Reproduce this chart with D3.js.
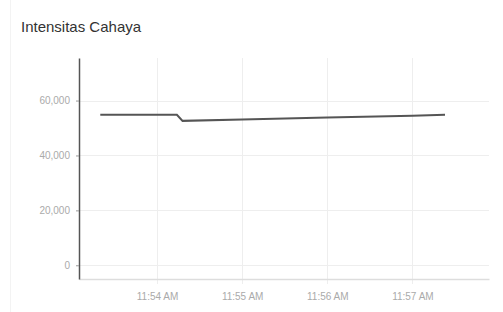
<!DOCTYPE html>
<html>
<head>
<meta charset="utf-8">
<script src="https://cdn.jsdelivr.net/npm/d3@7"></script>
<style>
  body { margin: 0; background: #fff; font-family: "Liberation Sans", Arial, sans-serif; }
  .title { font-size: 15px; fill: #333; }
  .tick text { fill: #aaa; font-size: 10px; }
</style>
</head>
<body>
<div id="chart"></div>
<script>
var width = 503, height = 312;
var margin = {top: 58, right: 14, bottom: 33, left: 79};

// readings (time of day, lux)
var times = ["11:53:20", "11:54:14", "11:54:18", "11:55:00", "11:56:00", "11:57:00", "11:57:23"];
var values = [54800, 54800, 52600, 53100, 53800, 54500, 54850];
var yTicks = [0, 20000, 40000, 60000];
var xTicks = ["11:54:00", "11:55:00", "11:56:00", "11:57:00"];
var xDomain = ["11:53:05", "11:57:54"];
var yDomain = [-5000, 75500];

var parse = d3.timeParse("%H:%M:%S");
var data = times.map(function(t, i) { return {t: parse(t), v: values[i]}; });

var svg = d3.select("#chart").append("svg")
  .attr("width", width)
  .attr("height", height);

svg.append("rect")
  .attr("x", 10.5).attr("y", -1)
  .attr("width", width).attr("height", height + 5)
  .attr("fill", "none")
  .attr("stroke", "#f3f3f3");

svg.append("text")
  .attr("class", "title")
  .attr("x", 21)
  .attr("y", 32)
  .text("Intensitas Cahaya");

var x = d3.scaleTime()
  .domain(xDomain.map(parse))
  .range([margin.left, width - margin.right]);
var y = d3.scaleLinear()
  .domain(yDomain)
  .range([height - margin.bottom, margin.top]);

// grid
svg.append("g").selectAll("line.h")
  .data(yTicks).enter().append("line")
  .attr("x1", margin.left).attr("x2", width - margin.right)
  .attr("y1", function(d) { return Math.round(y(d)) + 0.5; })
  .attr("y2", function(d) { return Math.round(y(d)) + 0.5; })
  .attr("stroke", "#eee");
svg.append("g").selectAll("line.v")
  .data(xTicks.map(parse)).enter().append("line")
  .attr("x1", function(d) { return Math.round(x(d)) + 0.5; })
  .attr("x2", function(d) { return Math.round(x(d)) + 0.5; })
  .attr("y1", margin.top).attr("y2", height - margin.bottom + 5)
  .attr("stroke", "#eee");

// x axis
var xAxis = svg.append("g")
  .attr("transform", "translate(0," + (height - margin.bottom) + ")")
  .call(d3.axisBottom(x).tickValues(xTicks.map(parse)).tickFormat(d3.timeFormat("%-I:%M %p"))
    .tickSize(0).tickSizeOuter(0).tickPadding(14));
xAxis.select(".domain").attr("stroke", "#ddd").attr("stroke-width", 1.5);

// y axis
var yAxis = svg.append("g")
  .attr("transform", "translate(" + margin.left + ",0)")
  .call(d3.axisLeft(y).tickValues(yTicks).tickFormat(d3.format(","))
    .tickSize(3).tickSizeOuter(0).tickPadding(6));
yAxis.select(".domain").attr("stroke", "#555").attr("stroke-width", 1.5);
yAxis.selectAll(".tick line").attr("stroke", "#999");

var line = d3.line()
  .x(function(d) { return x(d.t); })
  .y(function(d) { return y(d.v); });

svg.append("path")
  .datum(data)
  .attr("d", line)
  .attr("fill", "none")
  .attr("stroke", "#555")
  .attr("stroke-width", 2);
</script>
</body>
</html>
